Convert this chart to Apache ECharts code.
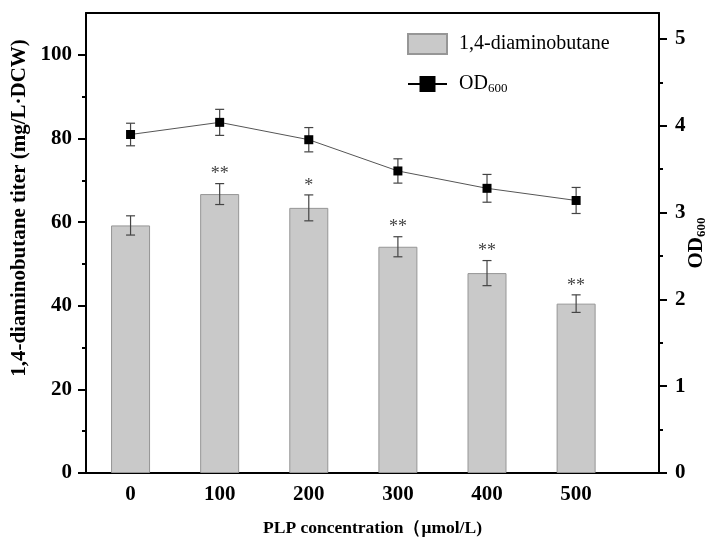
<!DOCTYPE html>
<html>
<head>
<meta charset="utf-8">
<script src="https://cdn.jsdelivr.net/npm/echarts@6/dist/echarts.min.js"></script>
<style>
  html, body { margin: 0; padding: 0; background: #fff; }
  #chart { width: 713px; height: 537px; }
</style>
</head>
<body>
<div id="chart"></div>
<script>
// values
const concentrations = [0, 100, 200, 300, 400, 500];
const titer = [59.2, 66.7, 63.4, 54.1, 47.8, 40.5];
const titerErr = [2.3, 2.5, 3.1, 2.4, 3.0, 2.1];
const od600 = [3.9, 4.04, 3.84, 3.48, 3.28, 3.14];
const odErr = [0.13, 0.15, 0.14, 0.14, 0.16, 0.15];
const significance = ["", "**", "*", "**", "**", "**"];
const titerTicks = [0, 20, 40, 60, 80, 100];
const titerMinor = [10, 30, 50, 70, 90];
const odTicks = [0, 1, 2, 3, 4, 5];
const odMinor = [0.5, 1.5, 2.5, 3.5, 4.5];

const serif = "Liberation Serif";
const chart = echarts.init(document.getElementById("chart"));

const labelStyle = {
  fontFamily: serif,
  fontWeight: "bold",
  fontSize: 21,
  color: "#000",
};
const blackLine = { onZero: false, lineStyle: { color: "#000", width: 2 } };

// error bars (+ significance marks) drawn with a custom series
const errorBars = (marks) => (params, api) => {
  const x = api.value(0);
  const lo = api.coord([x, api.value(1)]);
  const hi = api.coord([x, api.value(2)]);
  const half = 4.5;
  const style = { stroke: "#444", lineWidth: 1.2 };
  const children = [
    { type: "line", shape: { x1: lo[0], y1: lo[1], x2: hi[0], y2: hi[1] }, style },
    { type: "line", shape: { x1: lo[0] - half, y1: lo[1], x2: lo[0] + half, y2: lo[1] }, style },
    { type: "line", shape: { x1: hi[0] - half, y1: hi[1], x2: hi[0] + half, y2: hi[1] }, style },
  ];
  const mark = marks ? marks[params.dataIndex] : "";
  if (mark) {
    children.push({
      type: "text",
      x: hi[0],
      y: hi[1],
      style: {
        text: mark,
        font: "18px " + serif,
        fill: "#444",
        align: "center",
        verticalAlign: "bottom",
      },
    });
  }
  return { type: "group", children };
};

const option = {
  animation: false,
  grid: { left: 86, right: 54, top: 13, bottom: 64, outerBoundsMode: "none" },
  legend: {
    left: 407,
    top: 33,
    padding: 0,
    orient: "vertical",
    itemWidth: 39,
    itemHeight: 20,
    itemGap: 19,
    data: [
      { name: "1,4-diaminobutane", icon: "rect" },
      { name: "OD600", lineStyle: { color: "#000", width: 2 } },
    ],
    formatter: (name) =>
      name === "OD600" ? "{a|OD}{b|600}" : "{a|" + name + "}",
    textStyle: {
      rich: {
        a: { fontFamily: serif, fontSize: 20, color: "#000", padding: [0, 0, 0, 7] },
        b: { fontFamily: serif, fontSize: 13, color: "#000", padding: [9, 0, 0, 0] },
      },
    },
  },
  xAxis: [
    {
      type: "value",
      min: -50,
      max: 593,
      position: "bottom",
      name: "PLP concentration（μmol/L)",
      nameLocation: "middle",
      nameGap: 46,
      nameTextStyle: { fontFamily: serif, fontWeight: "bold", fontSize: 17.5, color: "#000" },
      axisLine: blackLine,
      axisTick: {
        inside: true,
        length: 6,
        customValues: concentrations,
        lineStyle: { color: "#000", width: 1.5 },
      },
      axisLabel: { ...labelStyle, margin: 11, customValues: concentrations },
      splitLine: { show: false },
    },
    {
      type: "value",
      min: -50,
      max: 593,
      position: "top",
      axisLine: blackLine,
      axisTick: { show: false },
      axisLabel: { show: false },
      splitLine: { show: false },
    },
  ],
  yAxis: [
    {
      type: "value",
      min: 0,
      max: 110,
      position: "left",
      name: "1,4-diaminobutane titer (mg/L·DCW)",
      nameLocation: "middle",
      nameGap: 55,
      nameTextStyle: {
        fontFamily: serif,
        fontWeight: "bold",
        fontSize: 21,
        color: "#000",
        padding: [0, 0, 0, 70],
      },
      axisLine: { show: true, ...blackLine },
      axisTick: { length: 8, customValues: titerTicks, lineStyle: { color: "#000", width: 2 } },
      axisLabel: { ...labelStyle, margin: 14, customValues: titerTicks },
      splitLine: { show: false },
    },
    {
      type: "value",
      min: 0,
      max: 5.3,
      position: "right",
      name: "{a|OD}{b|600}",
      nameLocation: "middle",
      nameRotate: 90,
      nameGap: 27,
      nameMoveOverlap: false,
      nameTextStyle: {
        rich: {
          a: { fontFamily: serif, fontWeight: "bold", fontSize: 21, color: "#000" },
          b: { fontFamily: serif, fontWeight: "bold", fontSize: 13, color: "#000", padding: [9, 0, 0, 0] },
        },
      },
      axisLine: { show: true, ...blackLine },
      axisTick: { length: 8, customValues: odTicks, lineStyle: { color: "#000", width: 2 } },
      axisLabel: { ...labelStyle, margin: 16, customValues: odTicks },
      splitLine: { show: false },
    },
    {
      // minor ticks, left
      type: "value",
      min: 0,
      max: 110,
      position: "left",
      axisLine: { show: false, onZero: false },
      axisTick: { length: 4, customValues: titerMinor, lineStyle: { color: "#000", width: 2 } },
      axisLabel: { show: false },
      splitLine: { show: false },
    },
    {
      // minor ticks, right
      type: "value",
      min: 0,
      max: 5.3,
      position: "right",
      axisLine: { show: false, onZero: false },
      axisTick: { length: 4, customValues: odMinor, lineStyle: { color: "#000", width: 2 } },
      axisLabel: { show: false },
      splitLine: { show: false },
    },
  ],
  series: [
    {
      name: "1,4-diaminobutane",
      type: "bar",
      xAxisIndex: 0,
      yAxisIndex: 0,
      barWidth: 39,
      data: concentrations.map((c, i) => [c, titer[i]]),
      itemStyle: { color: "#c9c9c9", borderColor: "#969696", borderWidth: 1 },
    },
    {
      type: "custom",
      xAxisIndex: 0,
      yAxisIndex: 0,
      z: 3,
      renderItem: errorBars(significance),
      encode: { x: 0, y: [1, 2] },
      data: concentrations.map((c, i) => [c, titer[i] - titerErr[i], titer[i] + titerErr[i]]),
    },
    {
      type: "custom",
      xAxisIndex: 0,
      yAxisIndex: 1,
      z: 3,
      renderItem: errorBars(null),
      encode: { x: 0, y: [1, 2] },
      data: concentrations.map((c, i) => [c, od600[i] - odErr[i], od600[i] + odErr[i]]),
    },
    {
      name: "OD600",
      type: "line",
      xAxisIndex: 0,
      yAxisIndex: 1,
      z: 4,
      symbol: "rect",
      symbolSize: 9,
      data: concentrations.map((c, i) => [c, od600[i]]),
      itemStyle: { color: "#000" },
      lineStyle: { color: "#555", width: 1 },
    },
  ],
};

chart.setOption(option);
</script>
</body>
</html>
